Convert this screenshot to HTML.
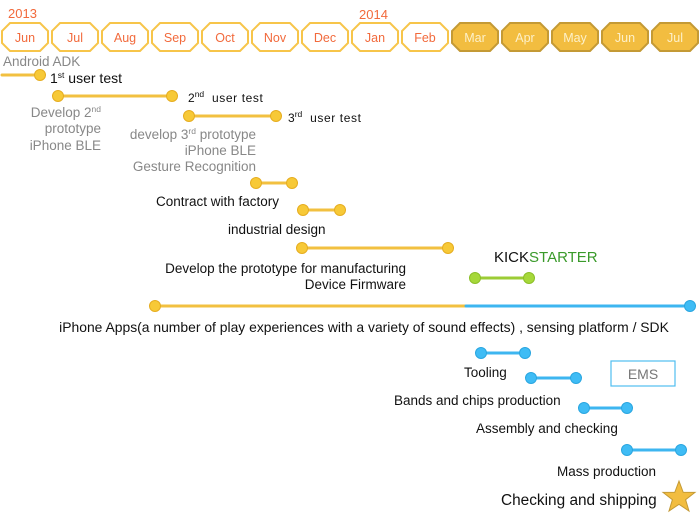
<!DOCTYPE html>
<html><head><meta charset="utf-8"><style>
html,body{margin:0;padding:0;background:#fff;}
svg{display:block;font-family:"Liberation Sans",sans-serif;}
</style></head><body>
<svg width="700" height="525" viewBox="0 0 700 525">
<defs>
<g id="oct"><polygon points="-15,-14 15,-14 23,-6 23,6 15,14 -15,14 -23,6 -23,-6"/></g>
</defs>
<text x="8" y="18" font-size="13" fill="#f26a3c">2013</text>
<text x="359" y="19" font-size="13" fill="#f26a3c">2014</text>
<g fill="#fff" stroke="#f7c54a" stroke-width="2">
<use href="#oct" x="25" y="37"/><use href="#oct" x="75" y="37"/><use href="#oct" x="125" y="37"/><use href="#oct" x="175" y="37"/><use href="#oct" x="225" y="37"/><use href="#oct" x="275" y="37"/><use href="#oct" x="325" y="37"/><use href="#oct" x="375" y="37"/><use href="#oct" x="425" y="37"/>
</g>
<g fill="#f2bd40" stroke="#c49a35" stroke-width="2">
<use href="#oct" x="475" y="37"/><use href="#oct" x="525" y="37"/><use href="#oct" x="575" y="37"/><use href="#oct" x="625" y="37"/><use href="#oct" x="675" y="37"/>
</g>
<g font-size="12.5" text-anchor="middle" fill="#f26a3c">
<text x="25" y="42">Jun</text><text x="75" y="42">Jul</text><text x="125" y="42">Aug</text><text x="175" y="42">Sep</text><text x="225" y="42">Oct</text><text x="275" y="42">Nov</text><text x="325" y="42">Dec</text><text x="375" y="42">Jan</text><text x="425" y="42">Feb</text>
</g>
<g font-size="12.5" text-anchor="middle" fill="#fdf0c8">
<text x="475" y="42">Mar</text><text x="525" y="42">Apr</text><text x="575" y="42">May</text><text x="625" y="42">Jun</text><text x="675" y="42">Jul</text>
</g>
<g stroke-width="3" stroke-linecap="round">
<line x1="2" y1="75" x2="40" y2="75" stroke="#f2c040"/>
<line x1="58" y1="96" x2="172" y2="96" stroke="#f2c040"/>
<line x1="189" y1="116" x2="276" y2="116" stroke="#f2c040"/>
<line x1="256" y1="183" x2="292" y2="183" stroke="#f2c040"/>
<line x1="303" y1="210" x2="340" y2="210" stroke="#f2c040"/>
<line x1="302" y1="248" x2="448" y2="248" stroke="#f2c040"/>
<line x1="475" y1="278" x2="529" y2="278" stroke="#9ccc35"/>
<line x1="155" y1="306" x2="466" y2="306" stroke="#f2c040"/>
<line x1="466" y1="306" x2="690" y2="306" stroke="#3db6f0"/>
<line x1="481" y1="353" x2="525" y2="353" stroke="#3db6f0"/>
<line x1="531" y1="378" x2="576" y2="378" stroke="#3db6f0"/>
<line x1="584" y1="408" x2="627" y2="408" stroke="#3db6f0"/>
<line x1="627" y1="450" x2="681" y2="450" stroke="#3db6f0"/>
</g>
<g fill="#f7c937" stroke="#e6ad20" stroke-width="1">
<circle cx="40" cy="75" r="5.5"/><circle cx="58" cy="96" r="5.5"/><circle cx="172" cy="96" r="5.5"/>
<circle cx="189" cy="116" r="5.5"/><circle cx="276" cy="116" r="5.5"/>
<circle cx="256" cy="183" r="5.5"/><circle cx="292" cy="183" r="5.5"/>
<circle cx="303" cy="210" r="5.5"/><circle cx="340" cy="210" r="5.5"/>
<circle cx="302" cy="248" r="5.5"/><circle cx="448" cy="248" r="5.5"/>
<circle cx="155" cy="306" r="5.5"/>
</g>
<g fill="#a6d83a" stroke="#8cbf28"><circle cx="475" cy="278" r="5.5"/><circle cx="529" cy="278" r="5.5"/></g>
<g fill="#3fbcf5" stroke="#2aa6e0">
<circle cx="690" cy="306" r="5.5"/>
<circle cx="481" cy="353" r="5.5"/><circle cx="525" cy="353" r="5.5"/>
<circle cx="531" cy="378" r="5.5"/><circle cx="576" cy="378" r="5.5"/>
<circle cx="584" cy="408" r="5.5"/><circle cx="627" cy="408" r="5.5"/>
<circle cx="627" cy="450" r="5.5"/><circle cx="681" cy="450" r="5.5"/>
</g>
<text x="3" y="66" font-size="13.5" fill="#888">Android ADK</text>
<text x="50" y="83" font-size="14" fill="#111">1<tspan font-size="8.5" dy="-5">st</tspan><tspan dy="5">  user test</tspan></text>
<text x="188" y="102" font-size="12" fill="#111" xml:space="preserve">2<tspan font-size="8.5" dy="-5">nd</tspan><tspan dy="5" letter-spacing="0.6">  user test</tspan></text>
<text x="288" y="122" font-size="12" fill="#111" xml:space="preserve">3<tspan font-size="8.5" dy="-5">rd</tspan><tspan dy="5" letter-spacing="0.6">  user test</tspan></text>
<g font-size="13.5" fill="#888" text-anchor="end">
<text x="101" y="117">Develop 2<tspan font-size="8.5" dy="-5">nd</tspan></text>
<text x="101" y="133">prototype</text>
<text x="101" y="150">iPhone BLE</text>
<text x="256" y="139">develop 3<tspan font-size="8.5" dy="-5">rd</tspan><tspan dy="5"> prototype</tspan></text>
<text x="256" y="155">iPhone BLE</text>
<text x="256" y="171">Gesture Recognition</text>
</g>
<g font-size="13.5" fill="#111">
<text x="156" y="206">Contract with factory</text>
<text x="228" y="234">industrial design</text>
<text x="406" y="273" text-anchor="end">Develop the prototype for manufacturing</text>
<text x="406" y="289" text-anchor="end">Device Firmware</text>
<text x="364" y="332" text-anchor="middle" font-size="13.9">iPhone Apps(a number of play experiences with a variety of sound effects) , sensing platform / SDK</text>
<text x="464" y="377">Tooling</text>
<text x="394" y="405">Bands and chips production</text>
<text x="476" y="433">Assembly and checking</text>
<text x="557" y="476">Mass production</text>
<text x="501" y="505" font-size="15.4">Checking and shipping</text>
</g>
<text x="494" y="262" font-size="15" fill="#111">KICK<tspan fill="#3a9a2a">STARTER</tspan></text>
<rect x="611" y="361" width="64" height="25" fill="#fff" stroke="#4fbdf0" stroke-width="1.2"/>
<text x="643" y="379" font-size="14" fill="#777" text-anchor="middle">EMS</text>
<polygon points="679,481 683.2,492.3 695,492.4 685.6,499.7 689,511 679,504.3 669,511 672.4,499.7 663,492.4 674.8,492.3" fill="#f2bd40" stroke="#c49a35" stroke-width="1"/>
</svg>
</body></html>
